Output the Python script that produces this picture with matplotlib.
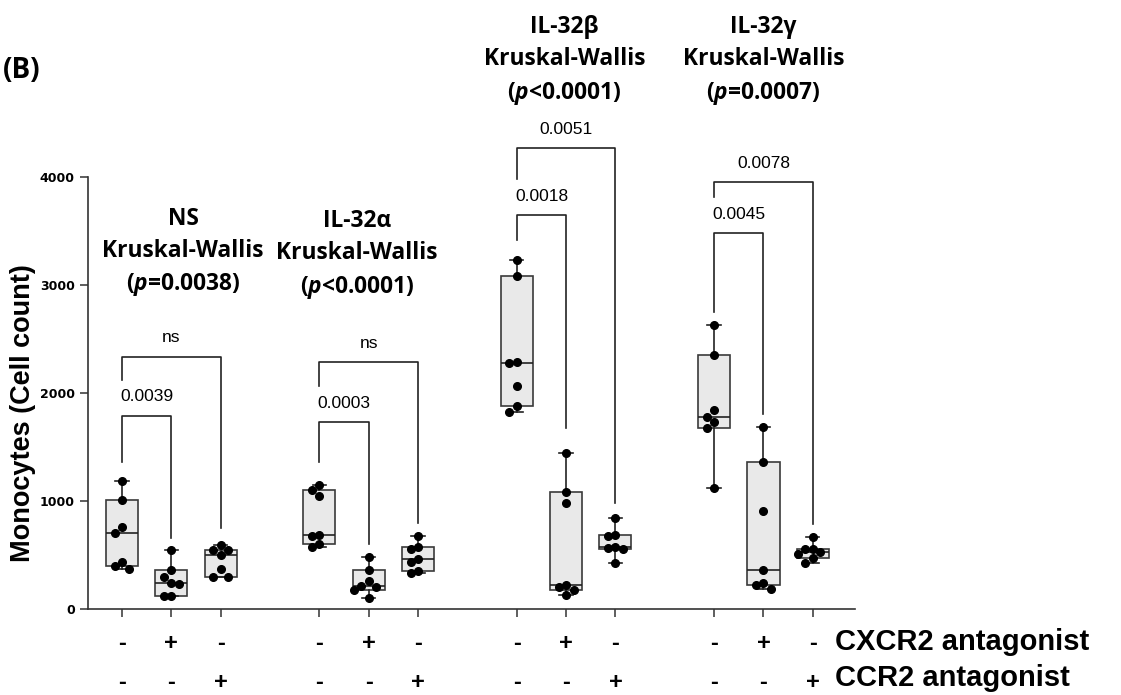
import matplotlib
matplotlib.use('Agg')
import matplotlib.pyplot as plt
import matplotlib.transforms as mtransforms
import numpy as np

# monocyte counts, one list per condition: [-/-, CXCR2 antag, CCR2 antag]
groups = ['NS', 'IL-32\u03b1', 'IL-32\u03b2', 'IL-32\u03b3']
kw_p = ['=0.0038', '<0.0001', '<0.0001', '=0.0007']

ns_vals = [[1190, 1010, 760, 705, 440, 395, 370],
           [550, 360, 300, 240, 230, 125, 120],
           [593, 546, 546, 500, 367, 300, 300]]
il32a_vals = [[1150, 1100, 1050, 690, 680, 600, 570],
              [478, 361, 255, 210, 205, 180, 100],
              [680, 575, 560, 460, 440, 355, 335]]
il32b_vals = [[3230, 3080, 2285, 2275, 2065, 1880, 1825],
              [1448, 1080, 985, 222, 200, 180, 130],
              [840, 685, 680, 570, 565, 560, 423]]
il32g_vals = [[2630, 2355, 1845, 1780, 1730, 1680, 1118],
              [1690, 1360, 910, 360, 245, 220, 190],
              [670, 560, 555, 530, 510, 470, 425]]
all_vals = [ns_vals, il32a_vals, il32b_vals, il32g_vals]

# multiple comparison brackets: (group, col, top, left leg end, right leg end, label)
brackets = [(0, 1, 1790, 1358, 655, '0.0039'), (0, 2, 2336, 2120, 747, 'ns'),
            (1, 1, 1728, 1358, 602, '0.0003'), (1, 2, 2284, 2065, 799, 'ns'),
            (2, 1, 3648, 3417, 1673, '0.0018'), (2, 2, 4265, 3978, 978, '0.0051'),
            (3, 1, 3478, 2753, 1803, '0.0045'), (3, 2, 3951, 3818, 784, '0.0078')]

cxcr2 = ['-', '+', '-']
ccr2 = ['-', '-', '+']

plt.rcParams['mathtext.fontset'] = 'custom'
plt.rcParams['mathtext.it'] = 'Open Sans:italic:bold'
plt.rcParams['mathtext.rm'] = 'Open Sans:bold'

fig = plt.figure(figsize=(11.21, 6.95), dpi=100)
ax = fig.add_axes([0.0785, 0.1237, 0.684, 0.6216])


def swarm(vals, w=0.15, dy=75):
    placed = []
    offs = []
    for v in vals:
        for o in [0, -w, w, -2 * w, 2 * w]:
            if all(abs(v - pv) > dy or abs(o - po) > w * 0.9 for pv, po in placed):
                break
        placed.append((v, o))
        offs.append(o)
    return np.array(offs)


stats = []
positions = []
for g, gvals in enumerate(all_vals):
    for i, v in enumerate(gvals):
        v = np.array(v, dtype=float)
        q1, med, q3 = np.percentile(v, [25, 50, 75], method='weibull')
        stats.append(dict(med=med, q1=q1, q3=q3, whislo=v.min(), whishi=v.max(), fliers=[]))
        positions.append(g * 4 + i)

ax.bxp(stats, positions=positions, widths=0.65, patch_artist=True,
       boxprops=dict(facecolor='#e9e9e9', edgecolor='#3a3a3a', linewidth=1.2),
       medianprops=dict(color='#222222', linewidth=1.2),
       whiskerprops=dict(color='#222222', linewidth=1.2),
       capprops=dict(color='#222222', linewidth=1.2), capwidths=0.27)

for g, gvals in enumerate(all_vals):
    for i, v in enumerate(gvals):
        x = g * 4 + i + swarm(v)
        ax.plot(x, v, 'o', color='black', markersize=5.5, zorder=5, clip_on=False)

for g, col, top, lbot, rbot, lab in brackets:
    x0 = g * 4
    x1 = g * 4 + col
    ax.plot([x0, x0, x1, x1], [lbot, top, top, rbot], color='#222222', lw=1.2, clip_on=False)
    ax.text((x0 + x1) / 2, top + 175, lab, ha='center', va='center', fontsize=12.5,
            family='Liberation Sans', clip_on=False)

title_x = [1.24, 4.76, 8.97, 13.0]
title_y = [3300, 3280, 5075, 5075]
for g in range(4):
    ax.text(title_x[g], title_y[g],
            groups[g] + '\nKruskal-Wallis\n($\\mathit{p}$' + kw_p[g] + ')',
            ha='center', va='center', fontsize=16.4, family='Open Sans',
            fontweight='bold', linespacing=1.45, clip_on=False)

ax.set_xlim(-0.69, 14.85)
ax.set_ylim(0, 4000)
ax.set_yticks([0, 1000, 2000, 3000, 4000])
ax.set_xticks(positions)
ax.set_xticklabels([])
ax.tick_params(axis='both', length=6, width=1.1, color='#333333')
for lab in ax.get_yticklabels():
    lab.set_fontweight('bold')
    lab.set_fontsize(9)
    lab.set_family('DejaVu Sans')
for s in ['top', 'right']:
    ax.spines[s].set_visible(False)
for s in ['left', 'bottom']:
    ax.spines[s].set_linewidth(1.2)
    ax.spines[s].set_color('#333333')

trans = mtransforms.blended_transform_factory(ax.transData, fig.transFigure)
for g in range(4):
    for i in range(3):
        ax.text(g * 4 + i, 0.074, cxcr2[i], transform=trans, ha='center', va='center',
                fontsize=17, fontweight='bold', family='Liberation Sans', clip_on=False)
        ax.text(g * 4 + i, 0.018, ccr2[i], transform=trans, ha='center', va='center',
                fontsize=17, fontweight='bold', family='Liberation Sans', clip_on=False)

fig.text(0.745, 0.076, 'CXCR2 antagonist', ha='left', va='center', fontsize=21,
         fontweight='bold', family='Liberation Sans')
fig.text(0.745, 0.025, 'CCR2 antagonist', ha='left', va='center', fontsize=21,
         fontweight='bold', family='Liberation Sans')

fig.text(0.0205, 1 - 413 / 695, 'Monocytes (Cell count)', rotation=90, ha='center', va='center',
         fontsize=19.5, fontweight='bold', family='Liberation Sans')
fig.text(0.003, 1 - 70 / 695, '(B)', ha='left', va='center', fontsize=20,
         fontweight='bold', family='Open Sans')

fig.savefig('out.png', dpi=100)
